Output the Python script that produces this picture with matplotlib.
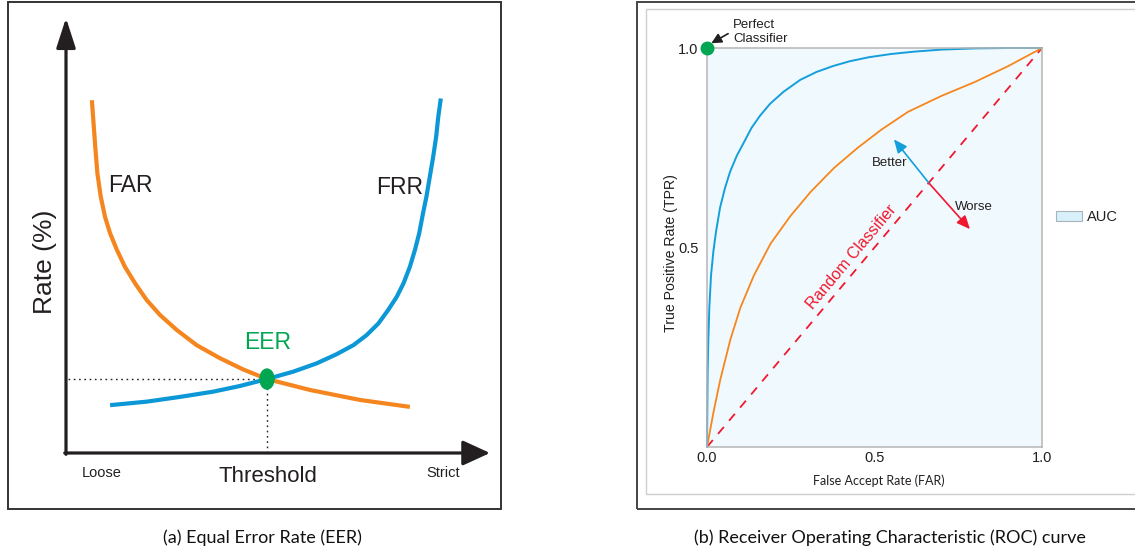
import matplotlib
matplotlib.use("Agg")
import matplotlib.pyplot as plt
from matplotlib.patches import Rectangle, Ellipse, Patch
from matplotlib import font_manager

# ---------------- data ----------------
# (a) EER chart: threshold (0 = loose, 1 = strict) vs rate (%)
far_threshold = [0.061, 0.065, 0.069, 0.074, 0.082, 0.092, 0.104, 0.120, 0.139, 0.163, 0.190, 0.222,
                 0.261, 0.308, 0.363, 0.418, 0.474, 0.575, 0.693, 0.811]
far_rate = [81.1, 75.8, 70.4, 64.3, 58.9, 54.3, 50.5, 46.7, 42.8, 39.0, 35.2, 31.7,
            28.3, 24.8, 21.8, 19.2, 17.0, 14.5, 12.2, 10.6]
frr_threshold = [0.104, 0.190, 0.269, 0.347, 0.410, 0.474, 0.536, 0.591, 0.638, 0.678, 0.709, 0.737,
                 0.760, 0.780, 0.796, 0.811, 0.823, 0.833, 0.842, 0.850, 0.858, 0.866, 0.873, 0.878, 0.884]
frr_rate = [11.0, 11.8, 12.9, 14.1, 15.4, 17.0, 18.7, 20.6, 22.7, 24.8, 27.1, 29.8,
            32.9, 35.9, 39.0, 42.8, 46.7, 50.5, 55.1, 58.9, 63.5, 68.1, 72.7, 77.3, 81.5]
eer_threshold = 0.474
eer_rate = 17.0

# (b) ROC chart
good_far = [0.0, 0.001, 0.002, 0.004, 0.007, 0.012, 0.019, 0.027, 0.039, 0.054, 0.069, 0.089, 0.108,
            0.133, 0.158, 0.188, 0.228, 0.278, 0.327, 0.377, 0.427, 0.484, 0.55, 0.62, 0.70, 0.80, 0.90, 1.0]
good_tpr = [0.0, 0.10, 0.19, 0.27, 0.35, 0.43, 0.49, 0.54, 0.60, 0.65, 0.69, 0.73, 0.76,
            0.80, 0.83, 0.86, 0.89, 0.92, 0.94, 0.955, 0.967, 0.977, 0.985, 0.991, 0.996, 0.999, 1.0, 1.0]
fair_far = [0.0, 0.02, 0.04, 0.07, 0.10, 0.14, 0.19, 0.25, 0.31, 0.38, 0.45, 0.52, 0.60, 0.70, 0.80, 0.90, 1.0]
fair_tpr = [0.0, 0.09, 0.17, 0.27, 0.35, 0.43, 0.51, 0.58, 0.64, 0.70, 0.75, 0.795, 0.84, 0.88, 0.915, 0.955, 1.0]
random_far = [0.0, 1.0]
random_tpr = [0.0, 1.0]
roc_xticks = [0.0, 0.5, 1.0]
roc_xticklabels = ["0.0", "0.5", "1.0"]
roc_yticks = [0.5, 1.0]
roc_yticklabels = ["0.5", "1.0"]

# ---------------- fonts / colours ----------------
names = {f.name for f in font_manager.fontManager.ttflist}
SANS = "Liberation Sans"
CAP = "Lato" if "Lato" in names else "DejaVu Sans"

ORANGE_L = "#f5861f"
BLUE_L = "#0c98d7"
GREEN = "#00a651"
ORANGE_R = "#f7861c"
BLUE_R = "#149fdc"
RED = "#f0182e"
TXT = "#231f20"

W, H = 1135, 556
fig = plt.figure(figsize=(W / 100, H / 100), dpi=100)


def fx(px):
    return px / W


def fy(py):
    return 1 - py / H


# frames
fig.add_artist(Rectangle((fx(8), fy(509)), (501 - 8) / W, (509 - 1.5) / H, transform=fig.transFigure,
                         fill=False, edgecolor="#333333", lw=1.4))
fig.add_artist(Rectangle((fx(637), fy(509)), (1140 - 637) / W, (509 - 1.5) / H, transform=fig.transFigure,
                         fill=False, edgecolor="#444444", lw=1.4))
fig.add_artist(Rectangle((fx(646), fy(494)), (1140 - 646) / W, (494 - 9) / H, transform=fig.transFigure,
                         fill=False, edgecolor="#cfcfcf", lw=1.0))

# captions
fig.text(fx(262), fy(538), "(a) Equal Error Rate (EER)", family=CAP, fontsize=13, ha="center", va="center", color="#111111")
fig.text(fx(890), fy(538), "(b) Receiver Operating Characteristic (ROC) curve", family=CAP, fontsize=13,
         ha="center", va="center", color="#111111")

# ---------------- (a) EER ----------------
ax1 = fig.add_axes([fx(66), fy(453), 424 / W, 435 / H])
ax1.set_xlim(0, 1)
ax1.set_ylim(0, 100)
for s in ax1.spines.values():
    s.set_visible(False)
ax1.set_xticks([])
ax1.set_yticks([])
ax1.patch.set_alpha(0)

arrow_kw = dict(arrowstyle="-|>,head_length=1.3,head_width=0.42", mutation_scale=14,
                color=TXT, lw=2.3, shrinkA=0, shrinkB=0)
ax1.annotate("", xy=(1, 0), xytext=(-0.003, 0), xycoords="axes fraction", textcoords="axes fraction",
             arrowprops=dict(arrow_kw, arrowstyle="-|>,head_length=1.2,head_width=0.55"), annotation_clip=False)
ax1.annotate("", xy=(0, 1), xytext=(0, -0.003), xycoords="axes fraction", textcoords="axes fraction",
             arrowprops=arrow_kw, annotation_clip=False)

ax1.plot([0.005, eer_threshold], [eer_rate, eer_rate], color=TXT, lw=1.0, ls=(0, (1.2, 2.6)))
ax1.plot([eer_threshold, eer_threshold], [0, eer_rate], color=TXT, lw=1.0, ls=(0, (1.2, 2.6)))

ax1.plot(far_threshold, far_rate, color=ORANGE_L, lw=3.0, solid_capstyle="butt", solid_joinstyle="round")
ax1.plot(frr_threshold, frr_rate, color=BLUE_L, lw=3.0, solid_capstyle="butt", solid_joinstyle="round")
ax1.add_patch(Ellipse((eer_threshold, eer_rate), 14 / 424, 20 / 435 * 100, color=GREEN, zorder=5))

ax1.text(0.151, 61.6, "FAR", family=SANS, fontsize=16.5, ha="center", va="center", color=TXT)
ax1.text(0.788, 61.1, "FRR", family=SANS, fontsize=16.5, ha="center", va="center", color=TXT)
ax1.text(0.476, 25.3, "EER", family=SANS, fontsize=16.5, ha="center", va="center", color=GREEN)
ax1.text(-0.05, 0.44, "Rate (%)", family=SANS, fontsize=19, rotation=90,
         ha="center", va="center", color=TXT, transform=ax1.transAxes)
ax1.text(0.085, -0.046, "Loose", family=SANS, fontsize=10.5, ha="center", va="center", color=TXT, transform=ax1.transAxes)
ax1.text(0.476, -0.055, "Threshold", family=SANS, fontsize=16, ha="center", va="center", color=TXT, transform=ax1.transAxes)
ax1.text(0.889, -0.046, "Strict", family=SANS, fontsize=10.5, ha="center", va="center", color=TXT, transform=ax1.transAxes)

# ---------------- (b) ROC ----------------
ax2 = fig.add_axes([fx(707), fy(447), 335 / W, 399 / H])
ax2.set_xlim(0, 1)
ax2.set_ylim(0, 1)
ax2.set_facecolor("#f0f9fd")
for s in ax2.spines.values():
    s.set_color("#b5b5b5")
    s.set_linewidth(1.1)
ax2.set_xticks(roc_xticks)
ax2.set_xticklabels(roc_xticklabels, family=SANS, fontsize=10.5, color=TXT)
ax2.set_yticks(roc_yticks)
ax2.set_yticklabels(roc_yticklabels, family=SANS, fontsize=10.5, color=TXT)
ax2.tick_params(length=0)
ax2.tick_params(axis="x", pad=3)
ax2.tick_params(axis="y", pad=6)

ax2.plot(random_far, random_tpr, color=RED, lw=1.3, ls=(0, (5, 4.5)))
ax2.plot(fair_far, fair_tpr, color=ORANGE_R, lw=1.3, solid_joinstyle="round")
ax2.plot(good_far, good_tpr, color=BLUE_R, lw=1.4, clip_on=False, solid_joinstyle="round")
ax2.plot([0], [1], "o", color=GREEN, ms=9, clip_on=False, zorder=6)

ax2.annotate("", xy=(0.013, 1.012), xytext=(0.063, 1.036),
             arrowprops=dict(arrowstyle="-|>,head_length=0.6,head_width=0.3", mutation_scale=10,
                             color=TXT, lw=1.2, shrinkA=0, shrinkB=0), annotation_clip=False)
ax2.text(0.078, 1.04, "Perfect\nClassifier", family=SANS, fontsize=9.5, ha="left", va="center",
         linespacing=1.2, color=TXT, clip_on=False)

ax2.text(0.432, 0.476, "Random Classifier", family=SANS, fontsize=11.5, color=RED, rotation=50,
         rotation_mode="anchor", ha="center", va="center")

ax2.annotate("", xy=(0.558, 0.771), xytext=(0.663, 0.661),
             arrowprops=dict(arrowstyle="-|>,head_length=0.8,head_width=0.35", mutation_scale=10,
                             color=BLUE_R, lw=1.2, shrinkA=0, shrinkB=0))
ax2.annotate("", xy=(0.785, 0.546), xytext=(0.663, 0.661),
             arrowprops=dict(arrowstyle="-|>,head_length=0.8,head_width=0.35", mutation_scale=10,
                             color=RED, lw=1.2, shrinkA=0, shrinkB=0))
ax2.text(0.546, 0.713, "Better", family=SANS, fontsize=9.5, ha="center", va="center", color=TXT)
ax2.text(0.798, 0.601, "Worse", family=SANS, fontsize=9.5, ha="center", va="center", color=TXT)

ax2.text(0.513, -0.085, "False Accept Rate (FAR)", family=CAP, fontsize=9, ha="center", va="center",
         color=TXT, transform=ax2.transAxes)
ax2.text(-0.107, 0.486, "True Positive Rate (TPR)", family=SANS, fontsize=10.2, ha="center", va="center",
         rotation=90, color=TXT, transform=ax2.transAxes)

fig.legend(handles=[Patch(facecolor="#d8f0fa", edgecolor="#a9b4b8", lw=0.8, label="AUC")],
           loc="center left", bbox_to_anchor=(fx(1056), fy(217)), frameon=False,
           prop={"family": SANS, "size": 10.5}, handlelength=1.75, handleheight=0.7,
           handletextpad=0.35, borderpad=0, borderaxespad=0, labelcolor=TXT)

fig.savefig("out.png", dpi=100)
